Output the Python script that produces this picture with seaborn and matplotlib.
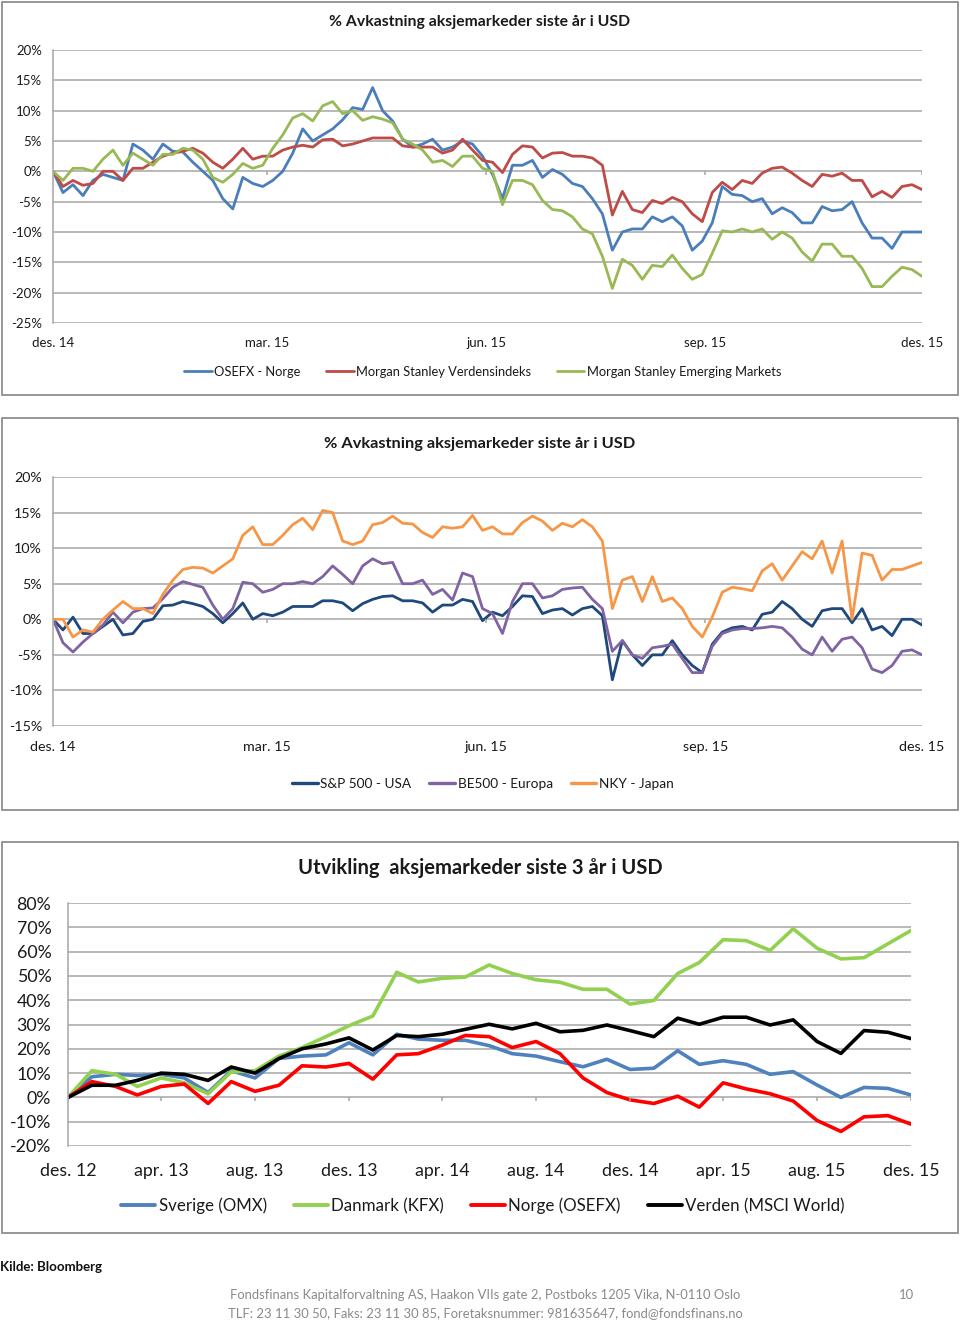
import matplotlib
matplotlib.use("Agg")
import matplotlib.pyplot as plt
from matplotlib.patches import Rectangle
from matplotlib.lines import Line2D
from matplotlib.ticker import FuncFormatter
import seaborn as sb
import pandas as pd

# ---- panel 1: % avkastning siste år (lest av bildet, ca. hver 4. handelsdag)
osefx_norge = [0, -3.5, -2.2, -4, -1.5, -0.5, -1, -1.5, 4.5, 3.5, 2, 4.5, 3.3, 3.2, 1.5, 0, -1.5, -4.5, -6.2, -1,
               -2, -2.5, -1.5, 0, 3, 7, 5, 6,
               7, 8.5, 10.5, 10.2, 13.8, 10, 8.3, 5.3, 4, 4.5, 5.3, 3.5, 4, 5, 4.5, 2.5, -0.5, -4.5, 1, 1,
               1.8, -1, 0.3, -0.5, -2, -2.5, -4.5, -7, -13, -10,
               -9.5, -9.5, -7.5, -8.3, -7.5, -9, -13, -11.5, -8.5, -2.5, -3.8, -4, -5, -4.5, -7, -6, -6.8, -8.5,
               -8.5, -5.8, -6.5, -6.3, -5, -8.5, -11, -11, -12.7, -10, -10, -10]
ms_verden = [0, -2.5, -1.5, -2.3, -2, 0, 0, -1.5, 0.5, 0.5, 1.5, 2.5, 3, 3.3, 3.8, 3, 1.5, 0.5, 2, 3.8,
             2, 2.5, 2.5, 3.5, 4, 4.3, 4, 5.2,
             5.3, 4.2, 4.5, 5, 5.5, 5.5, 5.5, 4.2, 4, 4, 4, 3, 3.5, 5.3, 3.5, 1.8, 1.5, -0.2, 2.8, 4.2,
             4, 2.2, 3, 3.1, 2.5, 2.5, 2.2, 1, -7.2, -3.3,
             -6.3, -6.8, -4.8, -5.3, -4.3, -5, -7, -8.3, -3.5, -1.8, -3, -1.5, -2, -0.3, 0.5, 0.7, -0.3, -1.5,
             -2.5, -0.5, -0.8, -0.3, -1.5, -1.5, -4.2, -3.3, -4.3, -2.5, -2.2, -3]
ms_em = [0, -1.5, 0.5, 0.5, 0, 2, 3.5, 1, 3, 2, 1, 2.8, 2.8, 3.8, 3.5, 2, -1, -1.8, -0.5, 1.3,
         0.5, 1, 3.8, 6, 8.8, 9.5, 8.3, 10.8,
         11.5, 9.5, 10, 8.4, 9, 8.6, 8, 5.3, 4.5, 3.5, 1.5, 1.8, 0.8, 2.5, 2.5, 0.5, 0, -5.5, -1.5, -1.5,
         -2.2, -4.8, -6.3, -6.5, -7.5, -9.5, -10.3, -14, -19.3, -14.5,
         -15.5, -17.8, -15.5, -15.7, -13.8, -16, -17.8, -17, -13.5, -9.8, -10, -9.5, -10, -9.5, -11.2, -10, -11, -13.3,
         -14.8, -12, -12, -14, -14, -16, -19, -19, -17.3, -15.8, -16.2, -17.3]

# ---- panel 2
sp500_usa = [0, -1.5, 0.3, -2, -2, -1, 0, -2.2, -2, -0.3, 0, 1.9, 2, 2.5, 2.2, 1.8, 0.8, -0.5, 0.8, 2.3,
             0, 0.8, 0.5, 1, 1.8, 1.8, 1.8, 2.6,
             2.6, 2.3, 1.2, 2.2, 2.8, 3.2, 3.3, 2.6, 2.6, 2.3, 1, 2, 2, 2.8, 2.5, -0.2, 1, 0.5, 1.8, 3.3,
             3.2, 0.8, 1.3, 1.5, 0.6, 1.5, 1.8, 0.5, -8.5, -3,
             -5, -6.5, -5, -5, -3, -5, -6.5, -7.5, -3.5, -1.8, -1.2, -1, -1.5, 0.7, 1, 2.5, 1.5, 0,
             -1, 1.2, 1.5, 1.5, -0.5, 1.5, -1.5, -1, -2.3, 0, 0, -0.8]
be500_europa = [0, -3.3, -4.6, -3.2, -2, -0.8, 1, -0.5, 1, 1.5, 1.6, 2.9, 4.5, 5.3, 4.9, 4.5, 2, 0, 1.5, 5.2,
                5, 3.8, 4.2, 5, 5, 5.3, 5, 6,
                7.5, 6.3, 5, 7.5, 8.5, 7.8, 8, 5, 5, 5.5, 3.5, 4.2, 2.7, 6.5, 6, 1.5, 0.8, -2, 2.5, 5,
                5, 3, 3.3, 4.2, 4.4, 4.5, 2.8, 1.5, -4.5, -3,
                -5, -5.5, -4, -3.8, -3.5, -5.5, -7.5, -7.5, -3.8, -2, -1.5, -1.3, -1.3, -1.2, -1, -1.2, -2.5, -4.2,
                -5, -2.5, -4.5, -2.8, -2.5, -4, -7, -7.5, -6.5, -4.5, -4.3, -5]
nky_japan = [0, 0, -2.5, -1.5, -1.8, 0, 1.3, 2.5, 1.5, 1.5, 0.8, 3.5, 5.5, 7, 7.3, 7.2, 6.5, 7.5, 8.5, 11.8,
             13, 10.5, 10.5, 11.8, 13.3, 14.2, 12.6, 15.3,
             15, 11, 10.5, 11, 13.3, 13.6, 14.5, 13.5, 13.4, 12.2, 11.5, 13, 12.8, 13, 14.6, 12.5, 13, 12, 12, 13.6,
             14.5, 13.8, 12.5, 13.5, 13, 14, 13, 11, 1.5, 5.5,
             6, 2.5, 6, 2.5, 3, 1.5, -1, -2.5, 0.3, 3.8, 4.5, 4.3, 4, 6.8, 7.8, 5.5, 7.5, 9.5,
             8.5, 11, 6.5, 11, 0, 9.3, 9, 5.5, 7, 7, 7.5, 8]

# ---- panel 3: utvikling siste 3 år, månedlig
sverige_omx = [0, 8.5, 9.5, 9, 9.5, 8, 2, 11, 8, 16, 17, 17.5, 22.5, 17.5, 26, 24, 23.5, 23.5, 21.3,
               18, 17, 14.7, 12.6, 15.7, 11.5, 12, 19.2, 13.6, 15.1, 13.6, 9.5, 10.6, 5.1, 0, 4.1, 3.7, 1]
danmark_kfx = [0, 11, 9.5, 4.5, 8, 6, 1.5, 10.5, 11, 17, 20.5, 25, 29.5, 33.5, 51.5, 47.5, 49, 49.5, 54.5,
               51, 48.4, 47.4, 44.5, 44.5, 38.4, 39.9, 51, 55.5, 64.9, 64.5, 60.5, 69.4, 61.4, 57, 57.5, 63.2, 68.7]
norge_osefx = [0, 6.5, 4.5, 1, 4.5, 5.5, -2.5, 6.5, 2.5, 5, 13, 12.5, 14, 7.5, 17.5, 18, 21.5, 25.5, 25,
               20.5, 23, 18, 8, 2, -1, -2.5, 0.5, -4, 6, 3.5, 1.5, -1.5, -9.5, -14, -8, -7.5, -11]
verden_msci = [0, 5, 5, 7, 10, 9.5, 7, 12.5, 10, 16, 20, 22, 24.5, 19.5, 25.5, 25, 26, 28, 30.1,
               28.2, 30.5, 27, 27.6, 29.8, 27.5, 25, 32.6, 30.1, 33, 33, 29.8, 31.9, 23, 18.1, 27.5, 26.8, 24.2]

ticks_1aar = ["2014-12-01", "2015-03-01", "2015-06-01", "2015-09-01", "2015-12-01"]
labels_1aar = ["des. 14", "mar. 15", "jun. 15", "sep. 15", "des. 15"]
ticks_3aar = ["2012-12-01", "2013-04-01", "2013-08-01", "2013-12-01", "2014-04-01",
              "2014-08-01", "2014-12-01", "2015-04-01", "2015-08-01", "2015-12-01"]
labels_3aar = ["des. 12", "apr. 13", "aug. 13", "des. 13", "apr. 14",
               "aug. 14", "des. 14", "apr. 15", "aug. 15", "des. 15"]

sb.set_theme(style="white")
plt.rcParams["font.family"] = ["Lato", "DejaVu Sans"]

W, H = 960, 1323
fig = plt.figure(figsize=(W / 100, H / 100), dpi=100)
GRID = "#a6a6a6"


def fy(px):
    return 1 - px / H


def frame(top, bottom):
    fig.add_artist(Rectangle((2 / W, fy(bottom)), 956 / W, (bottom - top) / H, transform=fig.transFigure,
                             fill=False, edgecolor="#8f8f8f", lw=1.3))


def panel(rect, dates, series, colors, lw, yticks, xticks, xlabels, fs, xpad, ypad, tickmark):
    ax = fig.add_axes(rect)
    long_df = pd.concat([pd.DataFrame({"dato": dates, "verdi": vals, "serie": name})
                         for name, vals in series.items()])
    sb.lineplot(data=long_df, x="dato", y="verdi", hue="serie", hue_order=list(series),
                palette=dict(zip(series, colors)), linewidth=lw, ax=ax, legend=False)
    xt = pd.to_datetime(xticks)
    ax.set_xlim(xt[0], xt[-1])
    ax.set_ylim(min(yticks), max(yticks))
    ax.set_yticks(yticks)
    ax.yaxis.set_major_formatter(FuncFormatter(lambda v, p: f"{v:.0f}%"))
    ax.set_xticks(xt)
    ax.set_xticklabels(xlabels)
    ax.set_xlabel("")
    ax.set_ylabel("")
    ax.yaxis.grid(True, color=GRID, lw=1.1)
    ax.set_axisbelow(True)
    for s in ["top", "right", "bottom"]:
        ax.spines[s].set_visible(False)
    ax.spines["left"].set_color(GRID)
    ax.spines["left"].set_linewidth(1.1)
    ax.tick_params(axis="y", length=4, color=GRID, pad=ypad, labelsize=fs, labelcolor="#1a1a1a")
    ax.tick_params(axis="x", length=0, pad=xpad, labelsize=fs, labelcolor="#1a1a1a")
    # små merker på 0-aksen
    ax.vlines(xt, -tickmark, 0, colors=GRID, lw=1.1)
    return ax


def legend(series, colors, lw, y, fs, hl, cs):
    handles = [Line2D([], [], color=c, lw=lw) for c in colors]
    fig.legend(handles, list(series), loc="center", bbox_to_anchor=(0.503, fy(y)), ncol=len(series),
               frameon=False, fontsize=fs, handlelength=hl, handletextpad=0.2, columnspacing=cs,
               labelcolor="#1a1a1a")


# ---------- panel 1
frame(2, 395)
fig.text(0.5, fy(22), "% Avkastning aksjemarkeder siste år i USD", ha="center", va="center",
         fontsize=11.3, fontweight="bold", color="#1a1a1a")
dager = pd.date_range("2014-12-01", "2015-12-01", periods=len(osefx_norge))
s1 = {"OSEFX - Norge": osefx_norge, "Morgan Stanley Verdensindeks": ms_verden,
      "Morgan Stanley Emerging Markets": ms_em}
c1 = ["#4a7ebb", "#be4b48", "#98b954"]
panel([53 / W, fy(323), 869 / W, 273 / H], dager, s1, c1, 2.0,
      [20, 15, 10, 5, 0, -5, -10, -15, -20, -25], ticks_1aar, labels_1aar, 9.5, 10, 4, 0.6)
legend(s1, c1, 2.0, 372, 9.3, 2.1, 2.0)

# ---------- panel 2
frame(418, 810)
fig.text(0.5, fy(444), "% Avkastning aksjemarkeder siste år i USD", ha="center", va="center",
         fontsize=11.8, fontweight="bold", color="#1a1a1a")
dager2 = pd.date_range("2014-12-01", "2015-12-01", periods=len(sp500_usa))
s2 = {"S&P 500 - USA": sp500_usa, "BE500 - Europa": be500_europa, "NKY - Japan": nky_japan}
c2 = ["#1f497d", "#8064a2", "#f79646"]
panel([53 / W, fy(726), 869 / W, 249 / H], dager2, s2, c2, 2.0,
      [20, 15, 10, 5, 0, -5, -10, -15], ticks_1aar, labels_1aar, 10.3, 11, 4, 0.5)
legend(s2, c2, 2.4, 784, 9.8, 1.9, 1.3)

# ---------- panel 3
frame(842, 1233)
fig.text(0.5, fy(868), "Utvikling  aksjemarkeder siste 3 år i USD", ha="center", va="center",
         fontsize=14.5, fontweight="bold", color="#1a1a1a")
mnd = pd.date_range("2012-12-01", periods=len(sverige_omx), freq="MS")
s3 = {"Sverige (OMX)": sverige_omx, "Danmark (KFX)": danmark_kfx, "Norge (OSEFX)": norge_osefx,
      "Verden (MSCI World)": verden_msci}
c3 = ["#4f81bd", "#92d050", "#ff0000", "#000000"]
panel([68 / W, fy(1146), 843 / W, 243 / H], mnd, s3, c3, 2.6,
      [80, 70, 60, 50, 40, 30, 20, 10, 0, -10, -20], ticks_3aar, labels_3aar, 12.8, 12, 8, 1.6)
legend(s3, c3, 2.8, 1206, 12.2, 2.0, 1.6)

# ---------- bunntekst
fig.text(0.0, fy(1267), "Kilde: Bloomberg", ha="left", va="center", fontsize=9.5, fontweight="bold",
         color="#111111")
fig.text(485 / W, fy(1295), "Fondsfinans Kapitalforvaltning AS, Haakon VIIs gate 2, Postboks 1205 Vika, N-0110 Oslo",
         ha="center", va="center", fontsize=9.4, color="#8a8a8a")
fig.text(485 / W, fy(1313), "TLF: 23 11 30 50, Faks: 23 11 30 85, Foretaksnummer: 981635647, fond@fondsfinans.no",
         ha="center", va="center", fontsize=9.4, color="#8a8a8a")
fig.text(907 / W, fy(1295), "10", ha="center", va="center", fontsize=9.4, color="#8a8a8a")

fig.savefig("out.png", dpi=100)
